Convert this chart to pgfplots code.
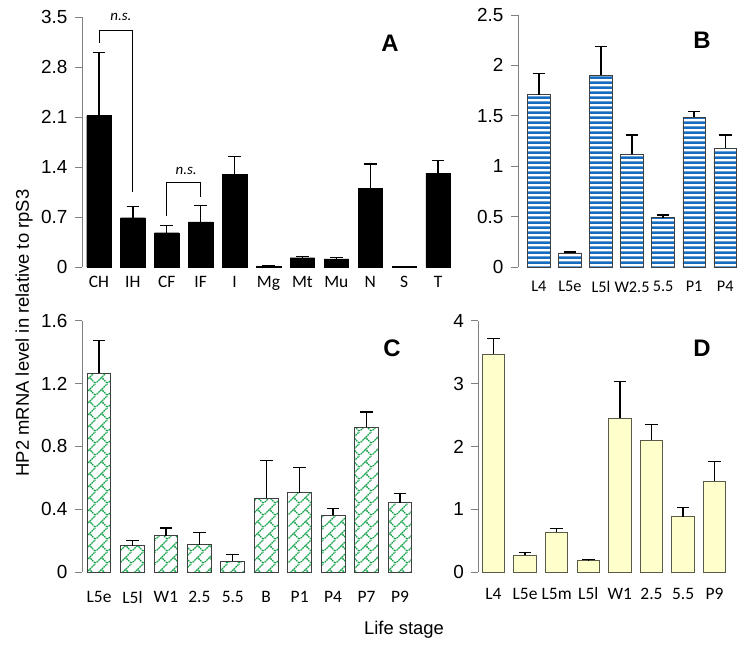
\documentclass[border=0pt]{standalone}
\usepackage{pgfplots}
\pgfplotsset{compat=1.18}
\usepackage{fontspec}
\setmainfont{Liberation Sans}
\newfontfamily\calfont{Carlito}
\usetikzlibrary{patterns.meta}
\definecolor{barblue}{RGB}{22,108,190}
\definecolor{brickgreen}{RGB}{20,165,75}
\definecolor{paleyellow}{RGB}{255,255,204}
\definecolor{yedge}{RGB}{90,90,72}
\definecolor{axgray}{RGB}{128,128,128}

\tikzdeclarepattern{
  name=hstripes,
  type=colored,
  bottom left={(0,0)},
  top right={(10bp,5.4bp)},
  tile size={(10bp,5.4bp)},
  code={\fill[barblue] (-0.5bp,0) rectangle (10.5bp,2.8bp);}
}
\tikzdeclarepattern{
  name=brick,
  type=colored,
  bottom left={(0,0)},
  top right={(12bp,12bp)},
  tile size={(12bp,12bp)},
  code={
    \draw[brickgreen, line width=1.35bp, dash pattern=on 1.8bp off 0.8bp] (-1bp,-1bp) -- (13bp,13bp);
    \draw[brickgreen, line width=1.35bp, dash pattern=on 1.8bp off 0.8bp] (12bp,0bp) -- (6bp,6bp);
  }
}

\pgfplotstableread{
x y e
0 2.12 0.88
1 0.69 0.16
2 0.48 0.10
3 0.63 0.23
4 1.30 0.25
5 0.012 0.006
6 0.13 0.02
7 0.115 0.02
8 1.10 0.34
9 0.006 0.003
10 1.31 0.18
}\dataA
\pgfplotstableread{
x y e
0 1.71 0.21
1 0.14 0.01
2 1.905 0.285
3 1.12 0.19
4 0.49 0.025
5 1.485 0.055
6 1.18 0.13
}\dataB
\pgfplotstableread{
x y e
0 1.267 0.208
1 0.168 0.032
2 0.23 0.05
3 0.175 0.075
4 0.07 0.04
5 0.47 0.24
6 0.505 0.162
7 0.36 0.045
8 0.922 0.096
9 0.44 0.06
}\dataC
\pgfplotstableread{
x y e
0 3.47 0.25
1 0.27 0.04
2 0.635 0.065
3 0.19 0.01
4 2.45 0.58
5 2.10 0.25
6 0.88 0.15
7 1.45 0.31
}\dataD

\pgfplotsset{
  panel/.style={
    scale only axis,
    anchor=south west,
    axis lines=left,
    x axis line style={draw=none},
    y axis line style={draw=axgray, line width=0.9bp},
    axis line style={-},
    tick align=outside,
    major tick length=7bp,
    xtick style={draw=none},
    ytick style={draw=axgray, line width=0.9bp},
    xtick=data,
    ymin=0,
    clip=false,
    /pgf/number format/assume math mode=true,
    yticklabel style={font=\fontsize{19}{22}\selectfont, xshift=-4bp},
    xticklabel style={font=\calfont\fontsize{17.5}{21}\selectfont},
    ybar,
    bar shift=0pt,
  },
  ebars/.style={
    error bars/.cd,
      y dir=plus, y explicit,
      error mark options={rotate=90, mark size=6.3bp, line width=1.4bp, black},
      error bar style={line width=1.4bp, black},
  },
}

\begin{document}
\begin{tikzpicture}[x=1bp,y=1bp]
\useasboundingbox (0,0) rectangle (745,647);

% Panel A
\begin{axis}[panel,
  at={(82bp,380bp)}, width=373bp, height=250bp,
  xmin=-0.5, xmax=10.5, ymax=3.5,
  ytick={0,0.7,1.4,2.1,2.8,3.5},
  xticklabels={CH,IH,CF,IF,I,Mg,Mt,Mu,N,S,T},
  xticklabel style={yshift=1bp},
  bar width=0.72,
]
\addplot[fill=black, draw=black, ebars] table[x=x, y=y, y error=e] {\dataA};
\draw[black, line width=0.8bp] (axis cs:0,3.14) -- (axis cs:0,3.31) -- (axis cs:1,3.31) -- (axis cs:1,1.05);
\node[font=\calfont\itshape\fontsize{15}{18}\selectfont] at (axis cs:0.65,3.50) {n.s.};
\draw[black, line width=0.8bp] (axis cs:2,0.71) -- (axis cs:2,1.18) -- (axis cs:3,1.18) -- (axis cs:3,0.98);
\node[font=\calfont\itshape\fontsize{15}{18}\selectfont] at (axis cs:2.57,1.34) {n.s.};
\end{axis}

% Panel B
\begin{axis}[panel,
  at={(518bp,380bp)}, width=228bp, height=252bp,
  xmin=-0.67, xmax=6.67, ymax=2.5,
  ytick={0,0.5,1,1.5,2,2.5},
  xticklabels={L4,L5e,L5l,W2.5,5.5,P1,P4},
  xticklabel style={yshift=-4bp, font=\calfont\fontsize{16.3}{20}\selectfont},
  bar width=0.73,
]
\addplot[fill=white, draw=black!75, line width=0.6bp, postaction={pattern=hstripes}, ebars] table[x=x, y=y, y error=e] {\dataB};
\end{axis}

% Panel C
\begin{axis}[panel,
  at={(82bp,75bp)}, width=335bp, height=251.3bp,
  xmin=-0.51, xmax=9.51, ymax=1.6,
  ytick={0,0.4,0.8,1.2,1.6},
  xticklabels={L5e,L5l,W1,2.5,5.5,B,P1,P4,P7,P9},
  xticklabel style={yshift=-9bp},
  bar width=0.71,
]
\addplot[fill=white, draw=black!75, line width=0.9bp, postaction={pattern=brick}, ebars] table[x=x, y=y, y error=e] {\dataC};
\end{axis}

% Panel D
\begin{axis}[panel,
  at={(478.3bp,74.7bp)}, width=251.5bp, height=251.6bp,
  xmin=-0.48, xmax=7.48, ymax=4,
  ytick={0,1,2,3,4},
  xticklabels={L4,L5e,L5m,L5l,W1,2.5,5.5,P9},
  xticklabel style={yshift=-5bp},
  bar width=0.71,
]
\addplot[fill=paleyellow, draw=yedge, line width=0.9bp, ebars] table[x=x, y=y, y error=e] {\dataD};
\end{axis}

\node[font=\bfseries\fontsize{24}{28}\selectfont] at (390,604) {A};
\node[font=\bfseries\fontsize{24}{28}\selectfont] at (702,607) {B};
\node[font=\bfseries\fontsize{24}{28}\selectfont] at (392,299) {C};
\node[font=\bfseries\fontsize{24}{28}\selectfont] at (702,299) {D};
\node[rotate=90, font=\fontsize{18.5}{22}\selectfont] at (24,314) {HP2 mRNA level in relative to rpS3};
\node[font=\fontsize{18.5}{22}\selectfont] at (404,17) {Life stage};
\end{tikzpicture}
\end{document}
